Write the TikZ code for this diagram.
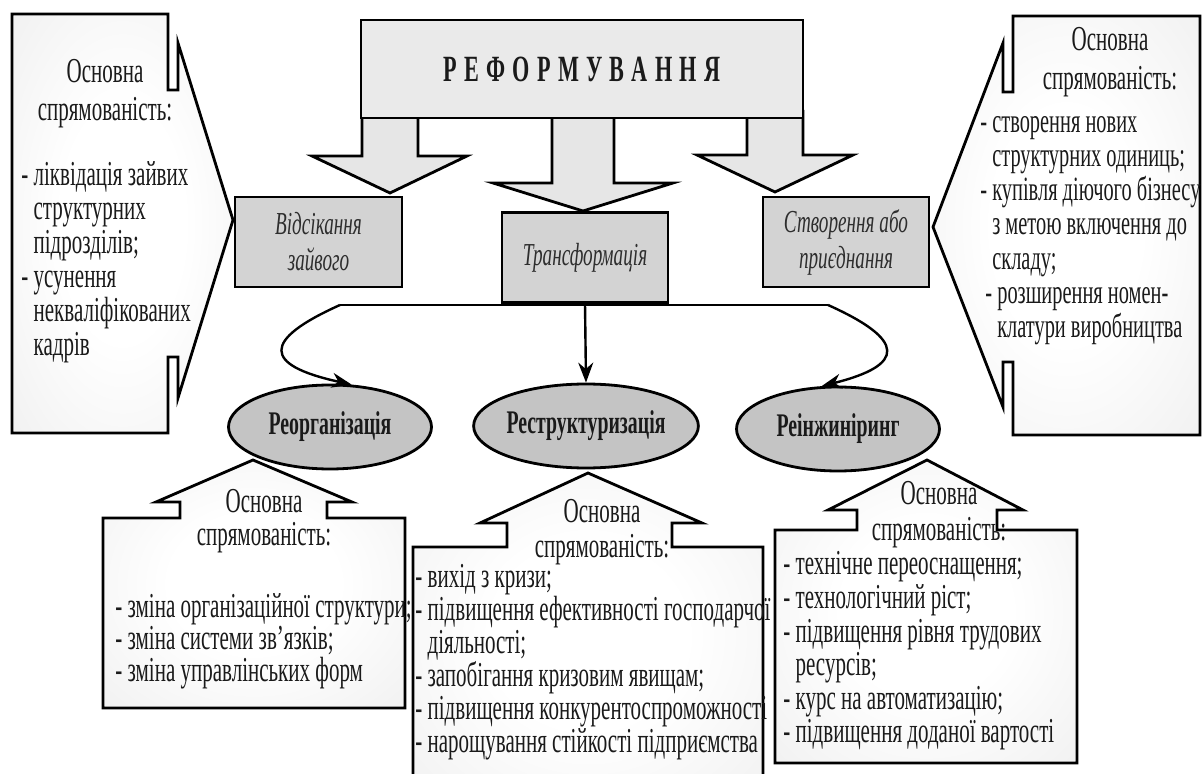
\documentclass[tikz,border=0pt]{standalone}
\usepackage{fontspec}
\setmainfont{Liberation Serif}[FakeStretch=0.6]
\usetikzlibrary{arrows.meta,shapes.geometric}
\definecolor{txt}{HTML}{1A1A1A}
\definecolor{labtxt}{HTML}{2E2E2E}
\definecolor{arrowfill}{HTML}{E6E6E6}
\definecolor{topfill}{HTML}{EAEAEA}
\definecolor{boxfill}{HTML}{D3D3D3}
\definecolor{ellfill}{HTML}{C4C4C4}
\pgfdeclareradialshading{calloutshade}{\pgfpoint{0bp}{0bp}}{color(0bp)=(white); color(14bp)=(white); color(42bp)=(gray!14); color(72bp)=(gray!30)}
\newcommand{\ind}{\hphantom{-\ }}
\newcommand{\lsp}{\kern 3.6pt}
\begin{document}
\begin{tikzpicture}[x=0.5pt,y=-0.5pt,
  outline/.style={draw=black,line width=1.4pt,line join=miter},
  blockarrow/.style={outline,fill=arrowfill},
  callout/.style={outline,shade,shading=calloutshade},
  topbox/.style={outline,fill=topfill,minimum width=221pt,minimum height=49pt,inner sep=0pt,text=txt,font=\fontsize{18.5}{20}\selectfont\bfseries},
  labelbox/.style={outline,fill=boxfill,minimum width=83pt,minimum height=45pt,inner sep=0pt,align=center,font=\fontsize{16}{18}\selectfont\itshape,text=labtxt},
  oval/.style={ellipse,outline,fill=ellfill,minimum width=101.5pt,minimum height=42pt,inner sep=0pt,font=\fontsize{16.5}{18}\selectfont\bfseries,text=txt},
  head/.style={align=center,inner sep=0pt,text=txt},
  items/.style={align=left,inner sep=0pt,text=txt,anchor=west},
  link/.style={line width=1.2pt,-{Stealth[length=10pt,width=7.5pt]}}
]
\useasboundingbox (0,0) rectangle (1203,774);
\clip (0,0) rectangle (1203,774);

% block arrows from the top box
\draw[blockarrow] (362,110) -- (362,156) -- (312,156) -- (390,193) -- (467,156) -- (418,156) -- (418,110);
\draw[blockarrow] (552,110) -- (552,183) -- (493,183) -- (583,211) -- (673,183) -- (614,183) -- (614,110);
\draw[blockarrow] (747,110) -- (747,155) -- (697,155) -- (775,192) -- (853,155) -- (803,155) -- (803,110);

% top box
\node[topbox] (title) at (582,69) {Р\lsp Е\lsp Ф\lsp О\lsp Р\lsp М\lsp У\lsp В\lsp А\lsp Н\lsp Н\lsp Я};

% big side callouts
\draw[callout] (12,14) -- (168,14) -- (168,90) -- (178,90) -- (178,43) -- (233,220) -- (178,398) -- (178,357) -- (168,357) -- (168,433) -- (12,433) -- cycle;
\draw[callout] (1200,16) -- (1013,16) -- (1013,92) -- (1003,92) -- (1003,43) -- (933,227) -- (1003,407) -- (1003,362) -- (1013,362) -- (1013,435) -- (1200,435) -- cycle;

% lower callouts
\draw[callout] (103,518) -- (180,518) -- (180,502) -- (156,502) -- (253,460) -- (352,502) -- (327,502) -- (327,518) -- (405,518) -- (405,708) -- (103,708) -- cycle;
\draw[callout] (413,547) -- (507,547) -- (507,523) -- (480,523) -- (588,473) -- (702,523) -- (672,523) -- (672,547) -- (763,547) -- (763,800) -- (413,800) -- cycle;
\draw[callout] (775,530) -- (857,530) -- (857,510) -- (828,510) -- (927,460) -- (1023,510) -- (997,510) -- (997,530) -- (1077,530) -- (1077,763) -- (775,763) -- cycle;

% second-level boxes
\node[labelbox,minimum width=83.5pt] (cut) at (318.5,242) {Відсікання\\зайвого};
\node[labelbox] (trans) at (585,257.5) {Трансформація};
\node[labelbox] (create) at (846,242) {Створення або\\приєднання};

% ellipses
\node[oval] (reorg) at (330,427) {Реорганізація};
\node[oval] (restr) at (586,426) {Реструктуризація};
\node[oval] (reeng) at (838,429) {Реінжиніринг};

% connectors
\coordinate (barL) at (340,305);
\coordinate (barR) at (828,305);
\draw[line width=1.2pt] (barL) -- (barR);
\draw[link] (trans.south) -- (restr.north);
\draw[link] (barL) .. controls (262,340) and (262,365) .. (reorg.63);
\draw[link] (barR) .. controls (906,340) and (906,365) .. (reeng.111);

% texts of the big left callout
\node[head,font=\fontsize{17.5}{19}\selectfont] (lhead) at (105,94) {Основна\\спрямованість:};
\node[items,font=\fontsize{17.5}{17}\selectfont] (litems) at (21,262) {- ліквідація зайвих\\\ind структурних\\\ind підрозділів;\\- усунення\\\ind некваліфікованих\\\ind кадрів};

% texts of the big right callout
\node[head,font=\fontsize{17.5}{19.5}\selectfont] (rhead) at (1110,62.5) {Основна\\спрямованість:};
\node[items,font=\fontsize{17}{17.1}\selectfont] (ritems) at (980,230.5) {- створення нових\\\ind структурних одиниць;\\- купівля діючого бізнесу\\\ind з метою включення до\\\ind складу;\\\kern2.5pt- розширення номен-\\\kern2.5pt\ind клатури виробництва};

% texts of the lower left callout
\node[head,font=\fontsize{17.5}{16.5}\selectfont] (llhead) at (264,521.5) {Основна\\спрямованість:};
\node[items,font=\fontsize{17.5}{16}\selectfont] (llitems) at (115,641) {- зміна організаційної структури;\\- зміна системи зв’язків;\\- зміна управлінських форм};

% texts of the lower middle callout
\node[head,font=\fontsize{17.5}{17.5}\selectfont] (lmhead) at (602,532.5) {Основна\\спрямованість:};
\node[items,font=\fontsize{17.5}{16.5}\selectfont] (lmitems) at (415,662.5) {- вихід з кризи;\\- підвищення ефективності господарчої\\\ind діяльності;\\- запобігання кризовим явищам;\\- підвищення конкурентоспроможності\\- нарощування стійкості підприємства};

% texts of the lower right callout
\node[head,font=\fontsize{17.5}{18}\selectfont] (lrhead) at (939,515) {Основна\\спрямованість:};
\node[items,font=\fontsize{17.5}{16.8}\selectfont] (lritems) at (783,651) {- технічне переоснащення;\\- технологічний ріст;\\- підвищення рівня трудових\\\ind ресурсів;\\- курс на автоматизацію;\\- підвищення доданої вартості};
\end{tikzpicture}
\end{document}
